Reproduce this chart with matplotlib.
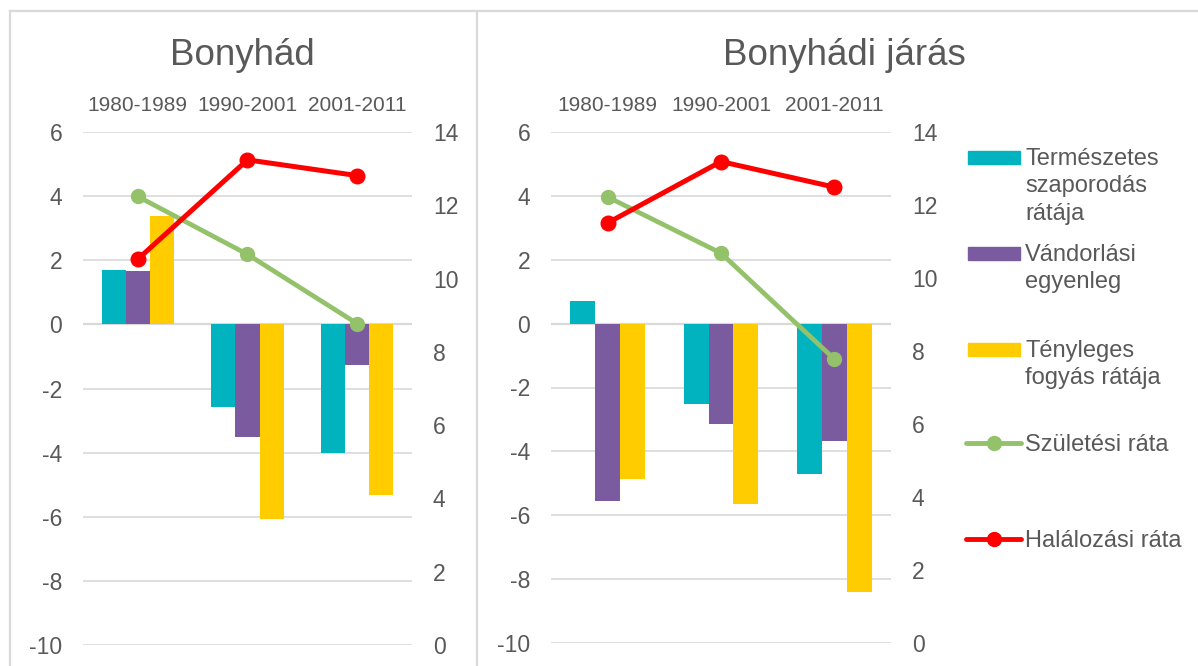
import matplotlib
matplotlib.use("Agg")
import matplotlib.pyplot as plt
import numpy as np
from matplotlib.lines import Line2D
from matplotlib.patches import Rectangle

plt.rcParams['font.family'] = ['Liberation Sans', 'DejaVu Sans']

# ---- data ----
categories = ["1980-1989", "1990-2001", "2001-2011"]
titles = ["Bonyhád", "Bonyhádi járás"]

bony_term = [1.70, -2.57, -4.02]
bony_vand = [1.66, -3.52, -1.28]
bony_teny = [3.37, -6.08, -5.31]
bony_szul = [12.24, 10.66, 8.77]
bony_hal = [10.53, 13.24, 12.81]

jaras_term = [0.70, -2.52, -4.72]
jaras_vand = [-5.56, -3.14, -3.66]
jaras_teny = [-4.86, -5.66, -8.39]
jaras_szul = [12.22, 10.68, 7.78]
jaras_hal = [11.51, 13.19, 12.49]

left_ticks = [-10, -8, -6, -4, -2, 0, 2, 4, 6]
right_ticks = [0, 2, 4, 6, 8, 10, 12, 14]

legend_labels = ["Természetes\nszaporodás\nrátája", "Vándorlási\negyenleg",
                 "Tényleges\nfogyás rátája", "Születési ráta", "Halálozási ráta"]

# ---- style ----
C_TEAL = "#00B3BE"
C_PURP = "#7A5B9F"
C_YELL = "#FFCC00"
C_GREEN = "#93C26A"
C_RED = "#FF0000"
C_TEXT = "#595959"
C_GRID = "#D9D9D9"

W, H = 1198, 666
fig = plt.figure(figsize=(W / 100, H / 100), dpi=100)


def fx(x):
    return x / W


def fy(y):
    return 1 - y / H


# frame lines
for (x0, y0, x1, y1) in [(10, 11, 1198, 11), (10, 11, 10, 666), (477, 11, 477, 666)]:
    fig.add_artist(Line2D([fx(x0), fx(x1)], [fy(y0), fy(y1)], color=C_GRID, lw=1.6))

panels = [
    dict(box=(83, 132, 412, 645), data=(bony_term, bony_vand, bony_teny, bony_szul, bony_hal),
         title=titles[0], tx=242),
    dict(box=(551, 132, 891, 643), data=(jaras_term, jaras_vand, jaras_teny, jaras_szul, jaras_hal),
         title=titles[1], tx=844),
]

x = np.arange(len(categories))
bw = 0.22
for p in panels:
    x0, y0, x1, y1 = p["box"]
    ax = fig.add_axes([fx(x0), fy(y1), fx(x1) - fx(x0), fy(y0) - fy(y1)])
    term, vand, teny, szul, hal = p["data"]
    ax.set_axisbelow(True)
    ax.bar(x - bw, term, width=bw, color=C_TEAL, zorder=2)
    ax.bar(x, vand, width=bw, color=C_PURP, zorder=2)
    ax.bar(x + bw, teny, width=bw, color=C_YELL, zorder=2)
    ax.set_xlim(-0.5, 2.5)
    ax.set_ylim(-10, 6)
    ax.set_yticks(left_ticks)
    ax.set_yticklabels([str(t) for t in left_ticks])
    ax.grid(axis='y', color=C_GRID, lw=1.2, zorder=0)
    ax.axhline(0, color=C_GRID, lw=1.6, zorder=1)
    ax.set_xticks(x)
    ax.set_xticklabels(categories)
    ax.xaxis.tick_top()
    ax.tick_params(axis='x', length=0, pad=12, labelsize=15, colors=C_TEXT)
    ax.tick_params(axis='y', length=0, pad=15, labelsize=16.5, colors=C_TEXT)
    for s in ax.spines.values():
        s.set_visible(False)

    ax2 = ax.twinx()
    ax2.plot(x, szul, color=C_GREEN, lw=3.4, marker='o', ms=10, solid_capstyle='round')
    ax2.plot(x, hal, color=C_RED, lw=3.6, marker='o', ms=10.5, solid_capstyle='round')
    ax2.set_ylim(0, 14)
    ax2.set_yticks(right_ticks)
    ax2.set_yticklabels([str(t) for t in right_ticks])
    ax2.tick_params(axis='y', length=0, pad=15, labelsize=16.5, colors=C_TEXT)
    for s in ax2.spines.values():
        s.set_visible(False)

    fig.text(fx(p["tx"]), fy(65), p["title"], ha='center', va='baseline',
             fontsize=26.5, color=C_TEXT)

# ---- legend ----
ys = [157, 253, 349, 443, 539]
colors = [C_TEAL, C_PURP, C_YELL, C_GREEN, C_RED]
for i, (yy, lab, col) in enumerate(zip(ys, legend_labels, colors)):
    if i < 3:
        fig.add_artist(Rectangle((fx(968), fy(yy + 6.5)), fx(1020) - fx(968), 13 / H,
                                 color=col, transform=fig.transFigure))
    else:
        fig.add_artist(Line2D([fx(966), fx(1021)], [fy(yy), fy(yy)], color=col, lw=3.5,
                              solid_capstyle='round'))
        fig.add_artist(Line2D([fx(993.5)], [fy(yy)], color=col, marker='o', ms=10, lw=0))
    fig.text(fx(1025), fy(yy - 9), lab, ha='left', va='top', fontsize=17,
             color=C_TEXT, linespacing=1.32)

fig.savefig("out.png", dpi=100)
